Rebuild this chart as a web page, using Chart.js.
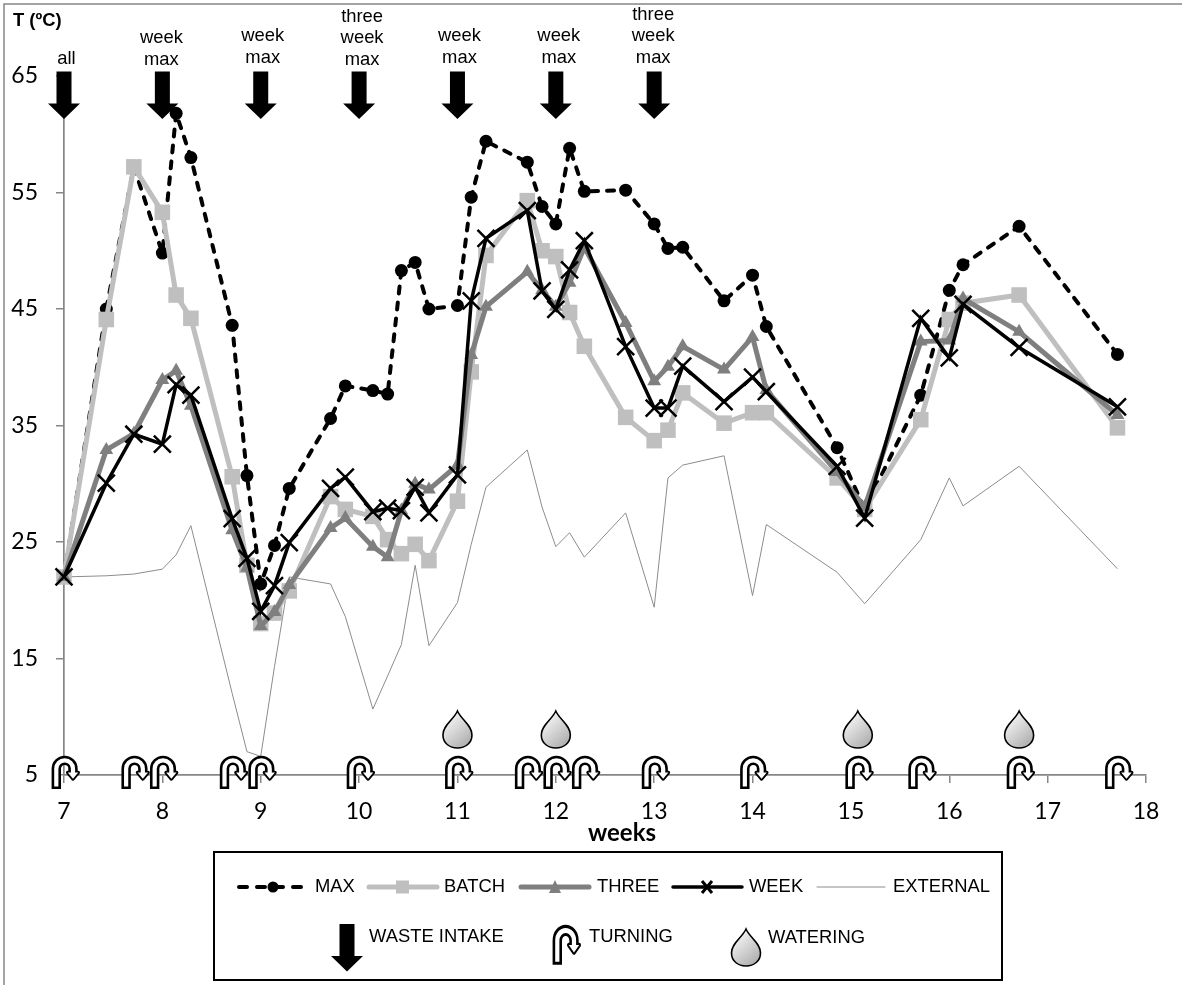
<!DOCTYPE html>
<html>
<head>
<meta charset="utf-8">
<title>Temperature</title>
<script src="https://cdn.jsdelivr.net/npm/chart.js@4"></script>
<style>
    body { margin: 0; background: #fff; }
    canvas { display: block; }
</style>
</head>
<body>
<canvas id="tempChart" width="1182" height="985"></canvas>
<script>
// values
const weeks = [7, 7.43, 7.71, 8, 8.14, 8.29, 8.71, 8.86, 9, 9.14, 9.29, 9.71, 9.86, 10.14, 10.29, 10.43, 10.57, 10.71, 11, 11.14, 11.29, 11.71, 11.86, 12, 12.14, 12.29, 12.71, 13, 13.14, 13.29, 13.71, 14, 14.14, 14.86, 15.14, 15.71, 16, 16.14, 16.71, 17.71];
const maxTemp = [22, 45, 57.2, 49.8, 61.8, 58, 43.6, 30.7, 21.4, 24.7, 29.6, 35.6, 38.4, 38, 37.7, 48.3, 49, 45, 45.3, 54.6, 59.4, 57.6, 53.8, 52.3, 58.8, 55.1, 55.2, 52.3, 50.2, 50.3, 45.7, 47.9, 43.5, 33.1, 27.8, 37.6, 46.6, 48.8, 52.1, 41.1];
const batchTemp = [22, 44.1, 57.2, 53.3, 46.2, 44.2, 30.6, 23, 18, 18.9, 20.8, 28.9, 27.8, 27.2, 25.2, 24, 24.8, 23.4, 28.5, 39.6, 49.6, 54.3, 50, 49.5, 44.7, 41.8, 35.7, 33.7, 34.6, 37.8, 35.2, 36.1, 36.1, 30.5, 27.8, 35.5, 44.1, 45.5, 46.2, 34.8];
const threeTemp = [22, 32.9, 34.3, 38.9, 39.7, 36.7, 26, 22.8, 17.8, 19, 21.3, 26.2, 27.05, 24.6, 23.7, 27.7, 30, 29.5, 31.6, 41.05, 45.2, 48.2, 46.6, 45.2, 47.25, 50.3, 43.8, 38.8, 40.05, 41.8, 39.8, 42.6, 38.05, 31, 28, 42.2, 42.3, 45.9, 43.05, 35.9];
const weekTemp = [22, 30.05, 34.25, 33.4, 38.5, 37.6, 27, 23.6, 19.05, 21.25, 24.95, 29.6, 30.56, 27.6, 27.9, 27.7, 29.7, 27.5, 30.76, 45.7, 51.06, 53.45, 46.55, 44.97, 48.35, 50.86, 41.77, 36.5, 36.5, 40.1, 37.05, 39.15, 37.9, 31.5, 27.05, 44.2, 40.8, 45.4, 41.7, 36.6];
const externalTemp = [22, 22.1, 22.25, 22.67, 23.9, 26.4, 12, 7, 6.6, 14.3, 22, 21.4, 18.6, 10.66, 13.5, 16.2, 23, 16.1, 19.8, 24.8, 29.7, 32.9, 28, 24.6, 25.8, 23.7, 27.5, 19.4, 30.5, 31.6, 32.4, 20.4, 26.5, 22.4, 19.7, 25.2, 30.5, 28.1, 31.5, 22.7];

// events along the time axis
const intakeWeeks = [7, 8, 9, 10, 11, 12, 13];
const intakeLabels = [['all'], ['week', 'max'], ['week', 'max'], ['three', 'week', 'max'], ['week', 'max'], ['week', 'max'], ['three', 'week', 'max']];
const turningWeeks = [7, 7.71, 8, 8.71, 9, 10, 11, 11.71, 12, 12.29, 13, 14, 15.07, 15.71, 16.71, 17.71];
const wateringWeeks = [11, 12, 15.07, 16.71];

const AXIS_GRAY = '#868686';
const TEXT_FONT = '18.4px "Liberation Sans"';

// the hand placed labels above the arrows are not quite centred in the original
const labelNudgeX = [2.5, -1, 2, 3, 2, 3, -1];
const labelNudgeY = [0, 1, -1, 1, -1, -1, -1];

function points(values) {
    return values.map((v, i) => ({ x: weeks[i], y: v }));
}

function drawArrow(ctx, x, top) {
    ctx.fillStyle = '#000';
    ctx.beginPath();
    ctx.moveTo(x - 7.5, top);
    ctx.lineTo(x + 7.5, top);
    ctx.lineTo(x + 7.5, top + 32);
    ctx.lineTo(x + 16, top + 32);
    ctx.lineTo(x, top + 47.5);
    ctx.lineTo(x - 16, top + 32);
    ctx.lineTo(x - 7.5, top + 32);
    ctx.closePath();
    ctx.fill();
}

function turningBand(bottom) {
    const band = new Path2D();
    band.moveTo(-9.7, bottom);
    band.lineTo(-9.7, -6.3);
    band.arc(-1.35, -6.3, 8.35, Math.PI, 0);
    band.lineTo(7, -2);
    return band;
}

// cx = middle of the icon, cy = height where the axis runs through it
function drawTurning(ctx, cx, cy, scaleY) {
    ctx.save();
    ctx.translate(cx, cy);
    ctx.scale(1, scaleY);
    const head = new Path2D();
    head.moveTo(1.8, -2.5);
    head.lineTo(12.2, -2.5);
    head.lineTo(7, 3.8);
    head.closePath();
    ctx.lineJoin = 'round';
    ctx.strokeStyle = '#000';
    ctx.lineWidth = 9.4;
    ctx.stroke(turningBand(14));
    ctx.lineWidth = 3.6;
    ctx.stroke(head);
    ctx.strokeStyle = '#fff';
    ctx.lineWidth = 4.2;
    ctx.stroke(turningBand(11.5));
    ctx.fillStyle = '#fff';
    ctx.fill(head);
    ctx.restore();
}

function drawDrop(ctx, cx, top) {
    const grad = ctx.createLinearGradient(cx - 12, top + 10, cx + 12, top + 36);
    grad.addColorStop(0, '#f2f2f2');
    grad.addColorStop(1, '#a9a9a9');
    ctx.beginPath();
    ctx.moveTo(cx, top);
    ctx.bezierCurveTo(cx + 4, top + 9, cx + 14.5, top + 14, cx + 14.5, top + 24);
    ctx.bezierCurveTo(cx + 14.5, top + 32, cx + 8, top + 37, cx, top + 37);
    ctx.bezierCurveTo(cx - 8, top + 37, cx - 14.5, top + 32, cx - 14.5, top + 24);
    ctx.bezierCurveTo(cx - 14.5, top + 14, cx - 4, top + 9, cx, top);
    ctx.closePath();
    ctx.fillStyle = grad;
    ctx.fill();
    ctx.strokeStyle = '#000';
    ctx.lineWidth = 1.6;
    ctx.stroke();
}

function legendSample(ctx, x1, x2, y, color, width, dash) {
    ctx.save();
    ctx.strokeStyle = color;
    ctx.lineWidth = width;
    ctx.lineCap = 'round';
    ctx.setLineDash(dash || []);
    ctx.beginPath();
    ctx.moveTo(x1, y);
    ctx.lineTo(x2, y);
    ctx.stroke();
    ctx.restore();
}

function drawLegend(ctx) {
    const rowY = 887;
    ctx.save();
    ctx.strokeStyle = '#000';
    ctx.lineWidth = 2;
    ctx.strokeRect(214, 852, 788, 128);

    legendSample(ctx, 239, 306, rowY, '#000', 4, [8, 10]);
    ctx.fillStyle = '#000';
    ctx.beginPath();
    ctx.arc(273, rowY, 5.5, 0, Math.PI * 2);
    ctx.fill();

    legendSample(ctx, 369, 437, rowY, '#bfbfbf', 5);
    ctx.fillStyle = '#bfbfbf';
    ctx.fillRect(396, rowY - 6.5, 13, 13);

    legendSample(ctx, 521, 589, rowY, '#7f7f7f', 5);
    ctx.fillStyle = '#7f7f7f';
    ctx.beginPath();
    ctx.moveTo(555, rowY - 7);
    ctx.lineTo(561, rowY + 6);
    ctx.lineTo(549, rowY + 6);
    ctx.closePath();
    ctx.fill();

    legendSample(ctx, 673, 742, rowY, '#000', 3.5);
    ctx.strokeStyle = '#000';
    ctx.lineWidth = 3;
    ctx.beginPath();
    ctx.moveTo(702, rowY - 6);
    ctx.lineTo(712, rowY + 6);
    ctx.moveTo(712, rowY - 6);
    ctx.lineTo(702, rowY + 6);
    ctx.stroke();

    legendSample(ctx, 817, 885, rowY, '#8c8c8c', 1);

    ctx.fillStyle = '#000';
    ctx.font = TEXT_FONT;
    ctx.textAlign = 'left';
    ctx.textBaseline = 'middle';
    ctx.fillText('MAX', 315, rowY);
    ctx.fillText('BATCH', 444, rowY);
    ctx.fillText('THREE', 597, rowY);
    ctx.fillText('WEEK', 749, rowY);
    ctx.fillText('EXTERNAL', 893, rowY);
    ctx.fillText('WASTE INTAKE', 369, 937);
    ctx.fillText('TURNING', 589, 937);
    ctx.fillText('WATERING', 768, 938);

    drawArrow(ctx, 347, 924);
    drawTurning(ctx, 567, 948, 1.2);
    drawDrop(ctx, 746, 929);
    ctx.restore();
}

const decorations = {
    id: 'decorations',
    afterDraw(chart) {
        const ctx = chart.ctx;
        const xScale = chart.scales.x;
        const axisY = chart.scales.y.getPixelForValue(5);

        // frame round the figure, only left and top are visible
        ctx.save();
        ctx.strokeStyle = AXIS_GRAY;
        ctx.lineWidth = 1.5;
        ctx.beginPath();
        ctx.moveTo(4, 985);
        ctx.lineTo(4, 4);
        ctx.lineTo(1182, 4);
        ctx.stroke();

        ctx.fillStyle = '#000';
        ctx.font = 'bold ' + TEXT_FONT;
        ctx.textAlign = 'left';
        ctx.textBaseline = 'middle';
        ctx.fillText('T (ºC)', 13, 21);

        // axis title sits off centre in the original
        ctx.font = 'bold 24px Lato';
        ctx.textAlign = 'center';
        ctx.fillText('weeks', 622, 833);

        intakeWeeks.forEach((w, i) => {
            const x = xScale.getPixelForValue(w);
            drawArrow(ctx, x, 71.5);
            const lines = intakeLabels[i];
            ctx.fillStyle = '#000';
            ctx.font = TEXT_FONT;
            ctx.textAlign = 'center';
            lines.forEach((line, j) => {
                ctx.fillText(line, x + labelNudgeX[i], 59 + labelNudgeY[i] - (lines.length - 1 - j) * 21.7);
            });
        });

        wateringWeeks.forEach(w => {
            drawDrop(ctx, xScale.getPixelForValue(w), axisY - 64);
        });
        turningWeeks.forEach(w => {
            drawTurning(ctx, xScale.getPixelForValue(w) + 2, axisY, 1);
        });

        drawLegend(ctx);
        ctx.restore();
    }
};

new Chart(document.getElementById('tempChart'), {
    type: 'line',
    data: {
        datasets: [
            {
                label: 'MAX',
                data: points(maxTemp),
                order: 4,
                clip: false,
                borderColor: '#000',
                borderWidth: 4,
                borderDash: [7, 9],
                borderCapStyle: 'round',
                pointStyle: 'circle',
                pointRadius: 6.5,
                pointBackgroundColor: '#000',
                pointBorderWidth: 0
            },
            {
                label: 'BATCH',
                data: points(batchTemp),
                order: 3,
                clip: false,
                borderColor: '#bfbfbf',
                borderWidth: 5,
                pointStyle: 'rect',
                pointRadius: 11,
                pointBackgroundColor: '#bfbfbf',
                pointBorderWidth: 0
            },
            {
                label: 'THREE',
                data: points(threeTemp),
                order: 2,
                clip: false,
                borderColor: '#7f7f7f',
                borderWidth: 5,
                pointStyle: 'triangle',
                pointRadius: 8,
                pointBackgroundColor: '#7f7f7f',
                pointBorderWidth: 0
            },
            {
                label: 'WEEK',
                data: points(weekTemp),
                order: 1,
                clip: false,
                borderColor: '#000',
                borderWidth: 3.5,
                pointStyle: 'crossRot',
                pointRadius: 12,
                pointBorderColor: '#000',
                pointBorderWidth: 2.5
            },
            {
                label: 'EXTERNAL',
                data: points(externalTemp),
                order: 5,
                clip: false,
                borderColor: '#8c8c8c',
                borderWidth: 1,
                pointRadius: 0
            }
        ]
    },
    options: {
        responsive: false,
        animation: false,
        devicePixelRatio: 1,
        layout: {
            autoPadding: false,
            padding: { top: 76, right: 36 }
        },
        plugins: {
            legend: { display: false },
            title: { display: false },
            tooltip: { enabled: false }
        },
        elements: { line: { tension: 0 } },
        scales: {
            x: {
                type: 'linear',
                min: 7,
                max: 18,
                afterFit(scale) { scale.height = 210; },
                border: { color: AXIS_GRAY, width: 1.7 },
                grid: { drawOnChartArea: false, color: AXIS_GRAY, lineWidth: 1.5, tickLength: 8 },
                ticks: {
                    stepSize: 1,
                    color: '#000',
                    padding: 15,
                    maxRotation: 0,
                    font: { family: 'Lato', size: 23 }
                }
            },
            y: {
                min: 5,
                max: 65,
                afterFit(scale) { scale.width = 64; },
                border: { color: AXIS_GRAY, width: 1.7 },
                grid: { drawOnChartArea: false, color: AXIS_GRAY, lineWidth: 1.5, tickLength: 8 },
                ticks: {
                    stepSize: 10,
                    color: '#000',
                    padding: 18,
                    font: { family: 'Lato', size: 23 }
                }
            }
        }
    },
    plugins: [decorations]
});
</script>
</body>
</html>
